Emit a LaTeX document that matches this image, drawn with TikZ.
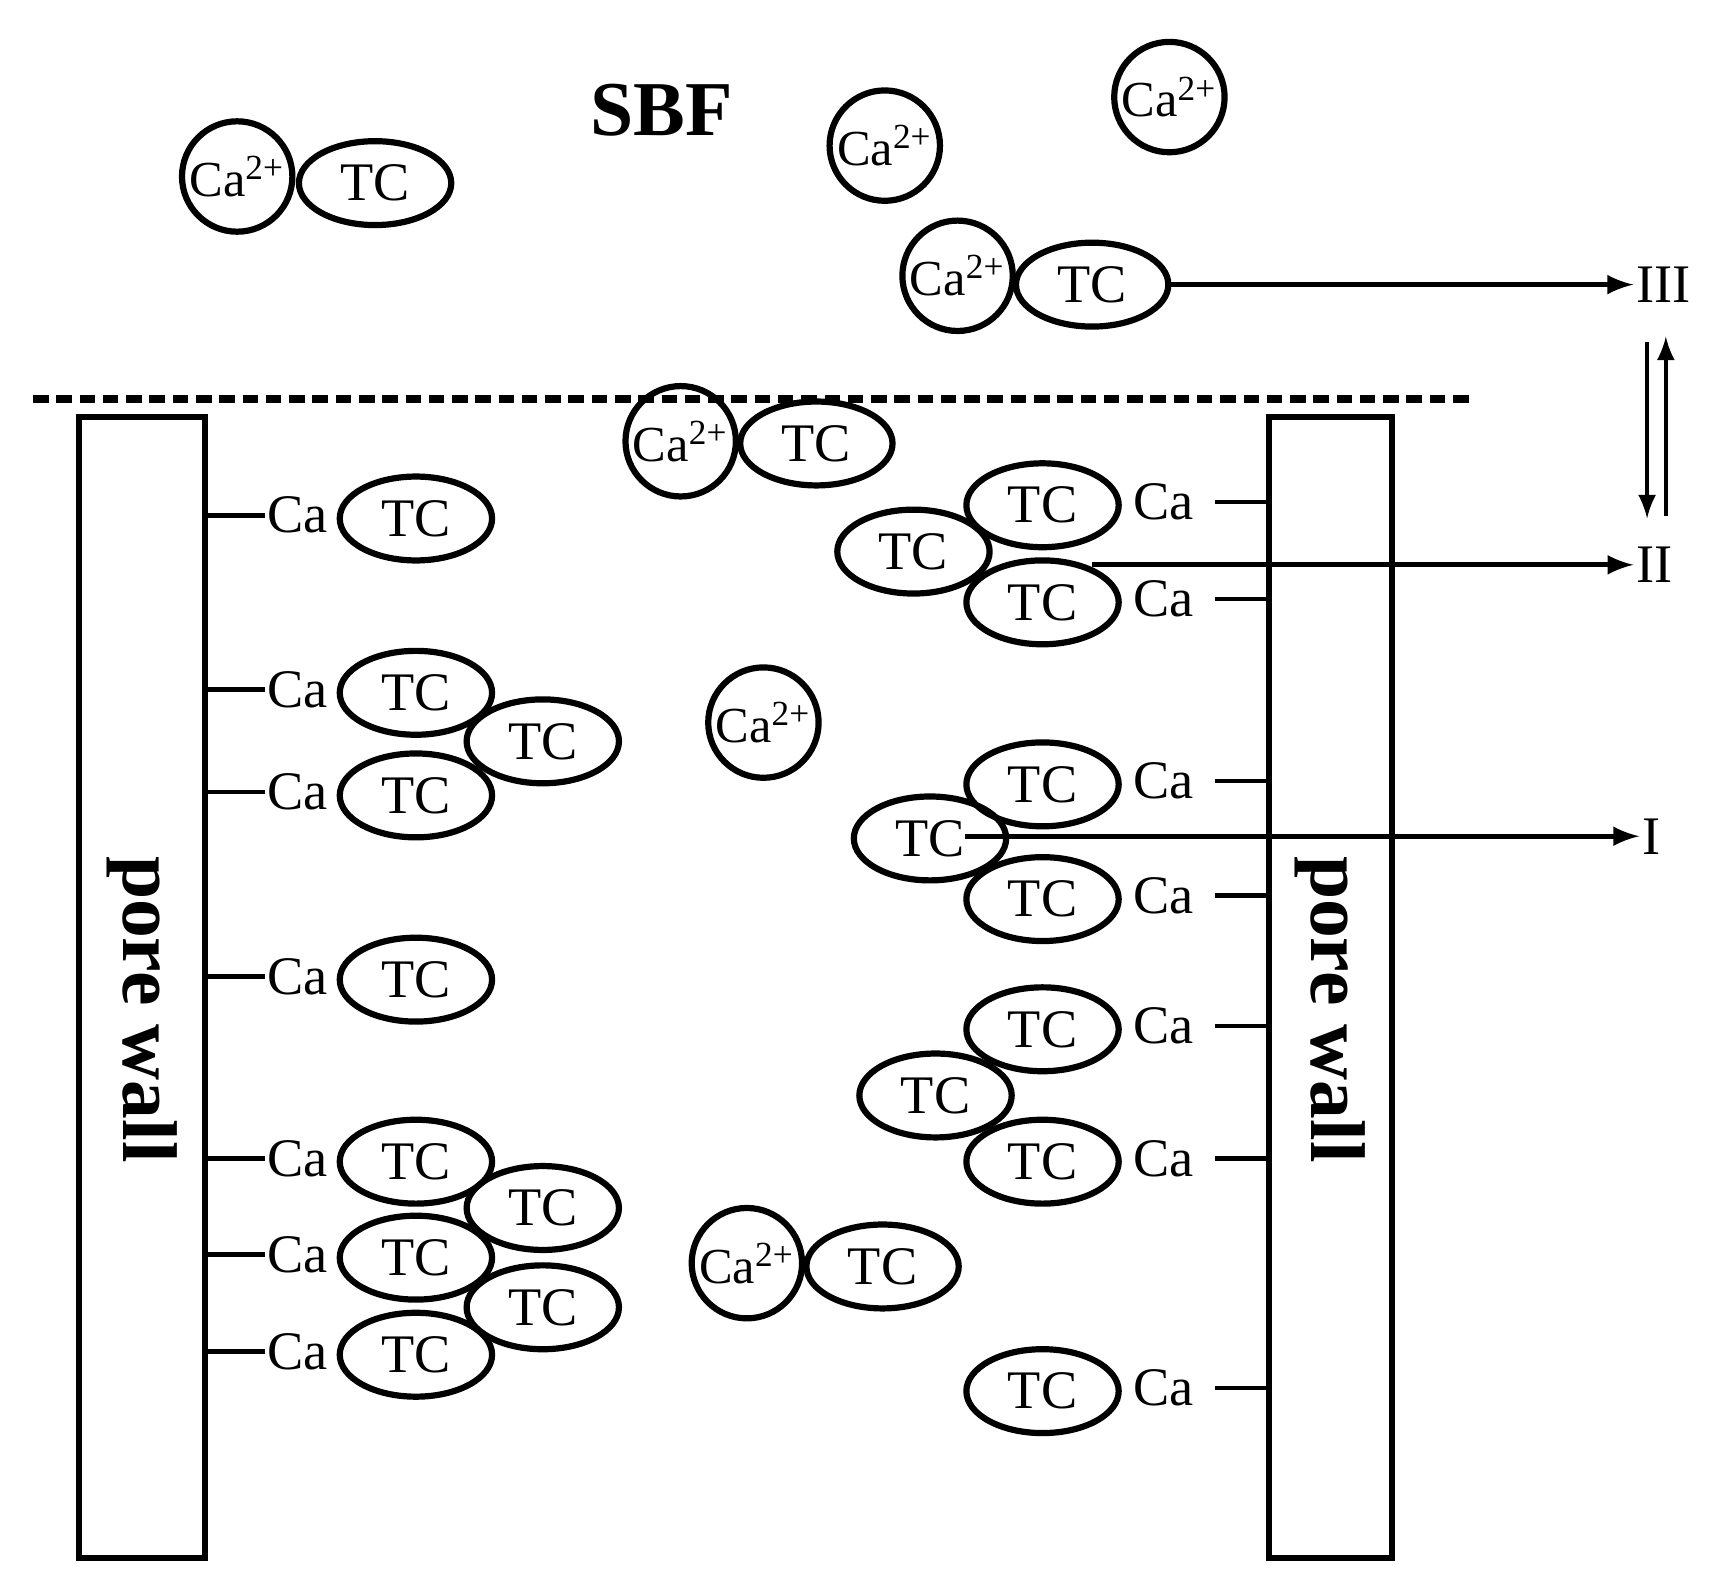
\documentclass[tikz,border=0pt]{standalone}
\usepackage{fontspec}
\setmainfont{Liberation Serif}
\usetikzlibrary{shapes.geometric}
\begin{document}
\begin{tikzpicture}[x=0.01cm,y=-0.01cm,line width=1.6pt,
  tc/.style={draw,ellipse,minimum width=1.38cm,minimum height=0.76cm,inner sep=0pt,font=\fontsize{14}{16}\selectfont},
  ca/.style={draw,circle,minimum size=1.0cm,inner sep=0pt,font=\fontsize{13}{15}\selectfont},
  lab/.style={font=\fontsize{14}{16}\selectfont,inner sep=0pt},
  wall/.style={draw,line width=1.6pt},
  arr/.style={-latex,line width=1.3pt}]
\useasboundingbox (0,0) rectangle (1560,1434);
\node[font=\fontsize{20}{22}\selectfont\bfseries] (sbf) at (600,100) {SBF};
\draw[dash pattern=on 4pt off 2pt,line width=2pt] (30,362) coordinate (d1) -- (1338,362) coordinate (d2);
\node[wall,minimum width=1.14cm,minimum height=10.34cm,inner sep=0pt] (lw) at (129,895) {};
\node[wall,minimum width=1.12cm,minimum height=10.34cm,inner sep=0pt] (rw) at (1206,895) {};
\node[rotate=-90,font=\fontsize{20}{22}\selectfont\bfseries] at (129,915) {pore wall};
\node[rotate=-90,font=\fontsize{20}{22}\selectfont\bfseries] at (1206,915) {pore wall};
% top
\node[ca] (c1) at (215,160) {Ca\textsuperscript{2+}};
\node[tc] (t1) at (340,166) {TC};
\node[ca] (c2) at (802,132) {Ca\textsuperscript{2+}};
\node[ca] (c3) at (1060,88) {Ca\textsuperscript{2+}};
\node[ca] (c4) at (868,250) {Ca\textsuperscript{2+}};
\node[tc] (t4) at (990,258) {TC};
\node[lab] (III) at (1508,258) {III};
\draw[arr] (t4.east) -- (III.west);
\node[ca] (c5) at (617,400) {Ca\textsuperscript{2+}};
\node[tc] (t5) at (740,402) {TC};
\node[ca] (c6) at (692,655) {Ca\textsuperscript{2+}};
\node[ca] (c7) at (677,1145) {Ca\textsuperscript{2+}};
\node[tc] (t7) at (800,1148) {TC};
% left rows
\foreach \n/\y in {a/467,b/625,c/718,d/885,e/1050,f/1137,g/1225}{
  \node[lab] (L\n) at (270,\y) {Ca};
  \node[tc] (LT\n) at (377,\y+3) {TC};
  \draw[line width=1.2pt] (186,\y) -- (L\n.west);
}
\node[tc] (X1) at (492,672) {TC};
\node[tc] (X2) at (492,1095) {TC};
\node[tc] (X3) at (492,1185) {TC};
% right rows
\foreach \n/\y in {a/455,b/543,c/708,d/812,e/930,f/1050,g/1258}{
  \node[lab] (R\n) at (1055,\y) {Ca};
  \node[tc] (RT\n) at (945,\y+3) {TC};
  \draw[line width=1.2pt] (R\n.east) ++(16,0) coordinate (r\n) -- (1150,\y);
}
\node[tc] (Y1) at (828,500) {TC};
\node[tc] (Y2) at (843,760) {TC};
\node[tc] (Y3) at (848,993) {TC};
\node[lab] (II) at (1500,512) {II};
\node[lab] (I) at (1497,758) {I};
\coordinate (s2) at (990,512);
\coordinate (s1) at (875,758);
\draw[arr] (s2) -- (II.west);
\draw[arr] (s1) -- (I.west);
\coordinate (u1) at (1493,310);
\coordinate (u2) at (1493,470);
\coordinate (v1) at (1510,468);
\coordinate (v2) at (1510,305);
\draw[arr,line width=1.1pt] (u1) -- (u2);
\draw[arr,line width=1.1pt] (v1) -- (v2);
\end{tikzpicture}
\end{document}
